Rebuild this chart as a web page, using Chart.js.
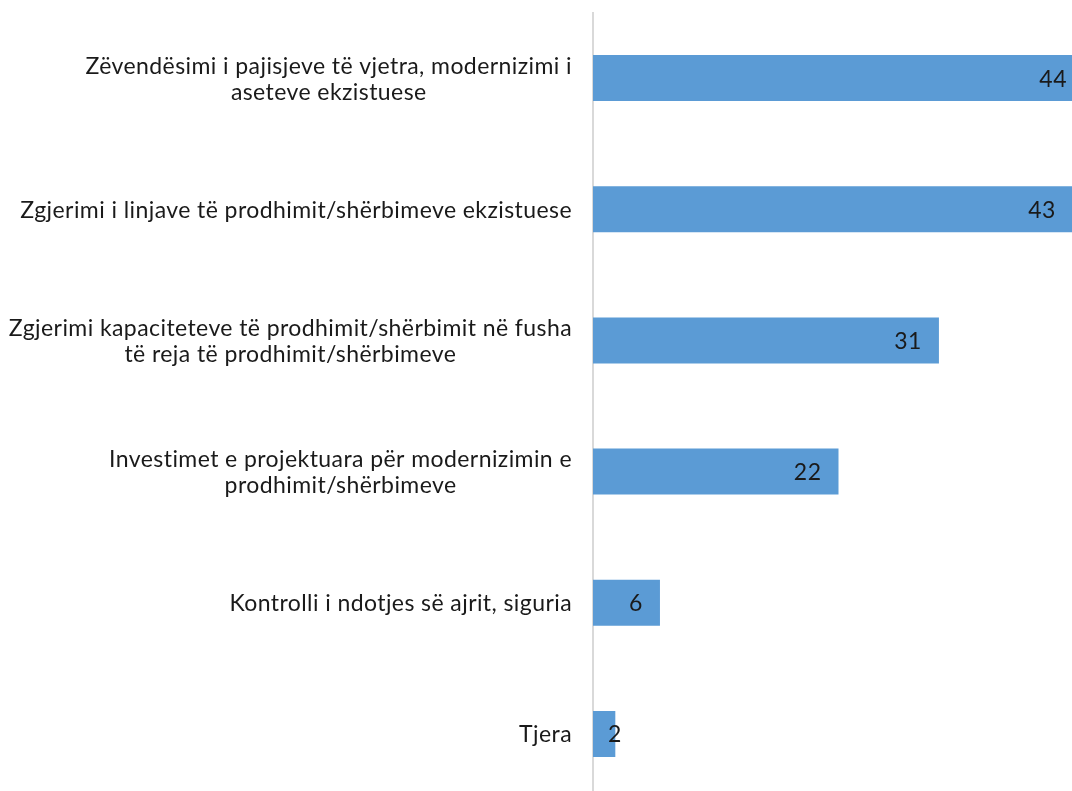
<!DOCTYPE html>
<html>
<head>
<meta charset="utf-8">
<script src="https://cdn.jsdelivr.net/npm/chart.js@4.4.1/dist/chart.umd.min.js"></script>
<style>
  html, body { margin: 0; padding: 0; background: #ffffff; overflow: hidden; }
  #wrap { position: absolute; left: 0; top: 0; width: 1085px; height: 800px; }
</style>
</head>
<body>
<div id="wrap"><canvas id="c"></canvas></div>
<script>
const categories = [
  ["Zëvendësimi i pajisjeve të vjetra, modernizimi i", "aseteve ekzistuese"],
  ["Zgjerimi i linjave të prodhimit/shërbimeve ekzistuese"],
  ["Zgjerimi kapaciteteve të prodhimit/shërbimit në fusha", "të reja të prodhimit/shërbimeve"],
  ["Investimet e projektuara për modernizimin e", "prodhimit/shërbimeve"],
  ["Kontrolli i ndotjes së ajrit, siguria"],
  ["Tjera"]
];
const values = [44, 43, 31, 22, 6, 2];
const axisMax = 44;

const FONT_FAMILY = "Lato";
const FONT_SIZE = 23;
const TEXT_COLOR = "#1a1a1a";

function fitSpacing(ctx, text, target) {
  ctx.save();
  ctx.font = FONT_SIZE + "px " + FONT_FAMILY;
  const w = ctx.measureText(text).width;
  ctx.restore();
  return Math.max(0, (target - w) / text.length);
}

const labelPlugin = {
  id: 'labelPlugin',
  afterDatasetsDraw(chart) {
    const ctx = chart.ctx;
    const yScale = chart.scales.y;
    const meta = chart.getDatasetMeta(0);
    const spacing = fitSpacing(ctx, categories[1][0], 552);
    ctx.save();
    ctx.font = FONT_SIZE + "px " + FONT_FAMILY;
    ctx.letterSpacing = spacing.toFixed(2) + "px";
    ctx.fillStyle = TEXT_COLOR;
    ctx.textBaseline = "middle";
    // category labels: block right-aligned, lines centered within block
    const rightEdge = chart.chartArea.left - 21;
    const lineH = 26;
    categories.forEach((lines, i) => {
      const cy = yScale.getPixelForValue(i);
      const widths = lines.map(l => ctx.measureText(l).width);
      const blockW = Math.max(...widths);
      const cx = rightEdge - blockW / 2;
      ctx.textAlign = "center";
      lines.forEach((l, j) => {
        const y = cy + (j - (lines.length - 1) / 2) * lineH;
        ctx.fillText(l, cx, y + 1);
      });
    });
    // value labels: inside end
    ctx.letterSpacing = "0.5px";
    meta.data.forEach((bar, i) => {
      const txt = String(values[i]);
      const tw = ctx.measureText(txt).width;
      const right = Math.max(bar.x - 17, bar.base + 15 + tw);
      ctx.textAlign = "right";
      ctx.fillText(txt, right, bar.y + 1);
    });
    ctx.restore();
  }
};

new Chart(document.getElementById('c'), {
  type: 'bar',
  data: {
    labels: categories,
    datasets: [{
      data: values,
      backgroundColor: '#5b9bd5',
      borderWidth: 0,
      barPercentage: 0.351,
      categoryPercentage: 1.0
    }]
  },
  options: {
    indexAxis: 'y',
    responsive: true,
    maintainAspectRatio: false,
    animation: false,
    layout: { padding: { top: 12.5, bottom: 0.5, left: 0, right: 1 } },
    plugins: { legend: { display: false }, tooltip: { enabled: false } },
    scales: {
      x: { display: false, min: 0, max: axisMax },
      y: {
        display: true,
        grid: { display: false },
        border: { display: true, color: '#d9d9d9', width: 2 },
        ticks: { display: false },
        afterFit(scale) { scale.width = 593; }
      }
    }
  },
  plugins: [labelPlugin]
});
</script>
</body>
</html>
